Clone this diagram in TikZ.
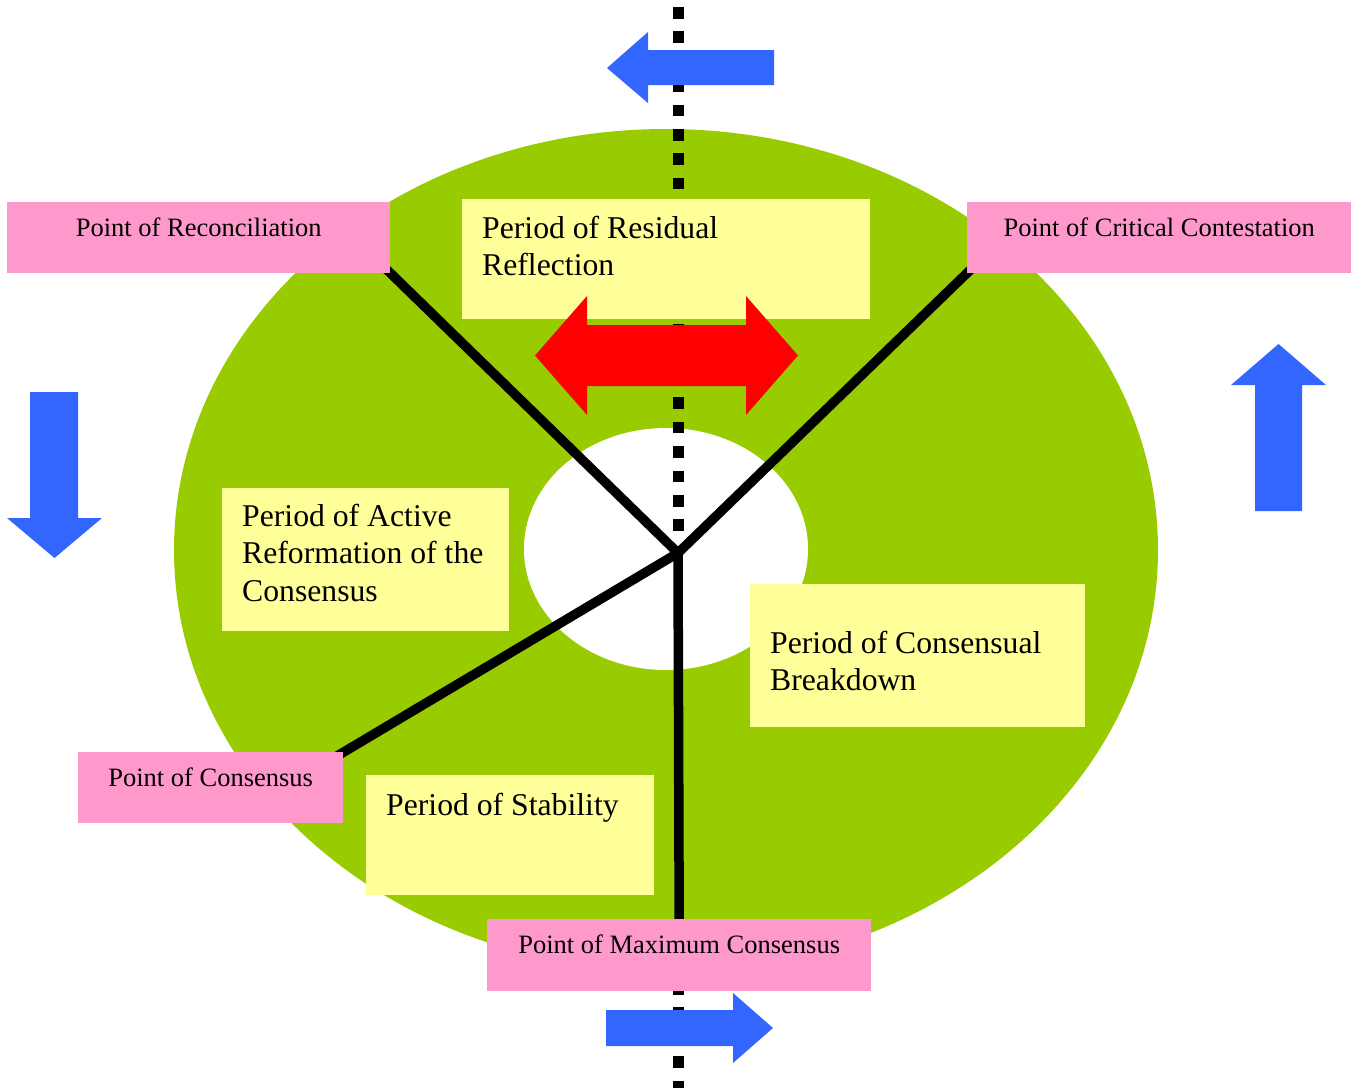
\documentclass[tikz,border=0pt]{standalone}
\usepackage{fontspec}
\setmainfont{Liberation Serif}
\usetikzlibrary{calc}
\definecolor{ringgreen}{HTML}{99CC00}
\definecolor{notepink}{HTML}{FF99CC}
\definecolor{noteyellow}{HTML}{FFFF99}
\definecolor{flowblue}{HTML}{3366FF}
\definecolor{flowred}{HTML}{FF0000}
\begin{document}
\begin{tikzpicture}[x=1pt,y=-1pt,
  pinkbox/.style={fill=notepink, inner sep=0pt, minimum height=71pt, anchor=north west},
  yellowbox/.style={fill=noteyellow, inner sep=0pt, anchor=north west},
  pinklabel/.style={font=\fontsize{26.5pt}{32pt}\selectfont, inner sep=0pt, anchor=base},
  yellowlabel/.style={font=\fontsize{31.7pt}{37.5pt}\selectfont, inner sep=0pt, anchor=base west, align=flush left, text width=300pt},
  spoke/.style={line width=9.5pt, black},
  axisline/.style={line width=11.6pt, black, dash pattern=on 11.6pt off 12.8pt},
  bluearrow/.style={fill=flowblue},
  redarrow/.style={fill=flowred}]
\useasboundingbox (0,0) rectangle (1353,1088);
% rings
\fill[ringgreen] (666,550) ellipse [x radius=492pt, y radius=421pt];
\fill[white] (666,549) ellipse [x radius=142pt, y radius=121pt];
% dotted axis (hidden between the hub and the lowest box)
\coordinate (axtop) at (678.5,7);
\coordinate (axbot) at (678.5,1088);
\begin{scope}
\clip (600,0) rectangle (760,540) (600,919) rectangle (760,1088);
\draw[axisline] (axtop) -- (axbot);
\end{scope}
\coordinate (hub) at (678,553);
% box frames (filled later, above the spokes)
\path (7,202) node[pinkbox, minimum width=383pt, fill=none] (recon) {};
\path (967,202) node[pinkbox, minimum width=384pt, fill=none] (crit) {};
\path (78,752) node[pinkbox, minimum width=265pt, fill=none] (cons) {};
\path (487,919) node[pinkbox, minimum width=384pt, minimum height=72pt, fill=none] (maxc) {};
% spokes
\draw[spoke] (hub) -- ($(recon.south east)+(-10,-10)$);
\draw[spoke] (hub) -- ($(crit.south west)+(10,-10)$);
\draw[spoke] (hub) -- ($(cons.north east)+(-8,5)$);
\draw[spoke] (hub) -- ($(maxc.north)+(0,6)$);
% yellow boxes
\node[yellowbox, minimum width=408pt, minimum height=120pt] (resid) at (462,199) {};
\node[yellowbox, minimum width=287pt, minimum height=143pt] (active) at (222,488) {};
\node[yellowbox, minimum width=335pt, minimum height=143pt] (brk) at (750,584) {};
\node[yellowbox, minimum width=288pt, minimum height=120pt] (stab) at (366,775) {};
\node[yellowlabel] (residT) at ($(resid.north west)+(20,39)$) {\spaceskip=0pt\relax Period of Residual\\Reflection};
\node[yellowlabel] (activeT) at ($(active.north west)+(20,38)$) {\spaceskip=0pt\relax Period of Active\\Reformation of the\\Consensus};
\node[yellowlabel] (brkT) at ($(brk.north west)+(20,69)$) {\spaceskip=0pt\relax Period of Consensual\\Breakdown};
\node[yellowlabel] (stabT) at ($(stab.north west)+(20,40)$) {\spaceskip=0pt\relax Period of Stability};
% red double arrow
\fill[redarrow] (535,355.5) -- (587,296) -- (587,325) -- (746,325) -- (746,296) -- (798,355.5) -- (746,415) -- (746,386) -- (587,386) -- (587,415) -- cycle;
% pink boxes drawn
\fill[notepink] (recon.north west) rectangle (recon.south east);
\fill[notepink] (crit.north west) rectangle (crit.south east);
\fill[notepink] (cons.north west) rectangle (cons.south east);
\fill[notepink] (maxc.north west) rectangle (maxc.south east);
\node[pinklabel] (reconT) at ($(recon.north)+(0,34)$) {Point of Reconciliation};
\node[pinklabel] (critT) at ($(crit.north)+(0,34)$) {Point of Critical Contestation};
\node[pinklabel] (consT) at ($(cons.north)+(0,34)$) {Point of Consensus};
\node[pinklabel] (maxcT) at ($(maxc.north)+(0,34)$) {Point of Maximum Consensus};
% blue arrows
\fill[bluearrow] (607,68) -- (648,32) -- (648,50) -- (774,50) -- (774,85) -- (648,85) -- (648,103) -- cycle;
\fill[bluearrow] (773,1028) -- (733,993) -- (733,1010) -- (606,1010) -- (606,1046) -- (733,1046) -- (733,1063) -- cycle;
\fill[bluearrow] (54.5,558) -- (7,518) -- (30,518) -- (30,392) -- (78,392) -- (78,518) -- (102,518) -- cycle;
\fill[bluearrow] (1278.5,344) -- (1231,385) -- (1255,385) -- (1255,511) -- (1302,511) -- (1302,385) -- (1326,385) -- cycle;
\end{tikzpicture}
\end{document}
